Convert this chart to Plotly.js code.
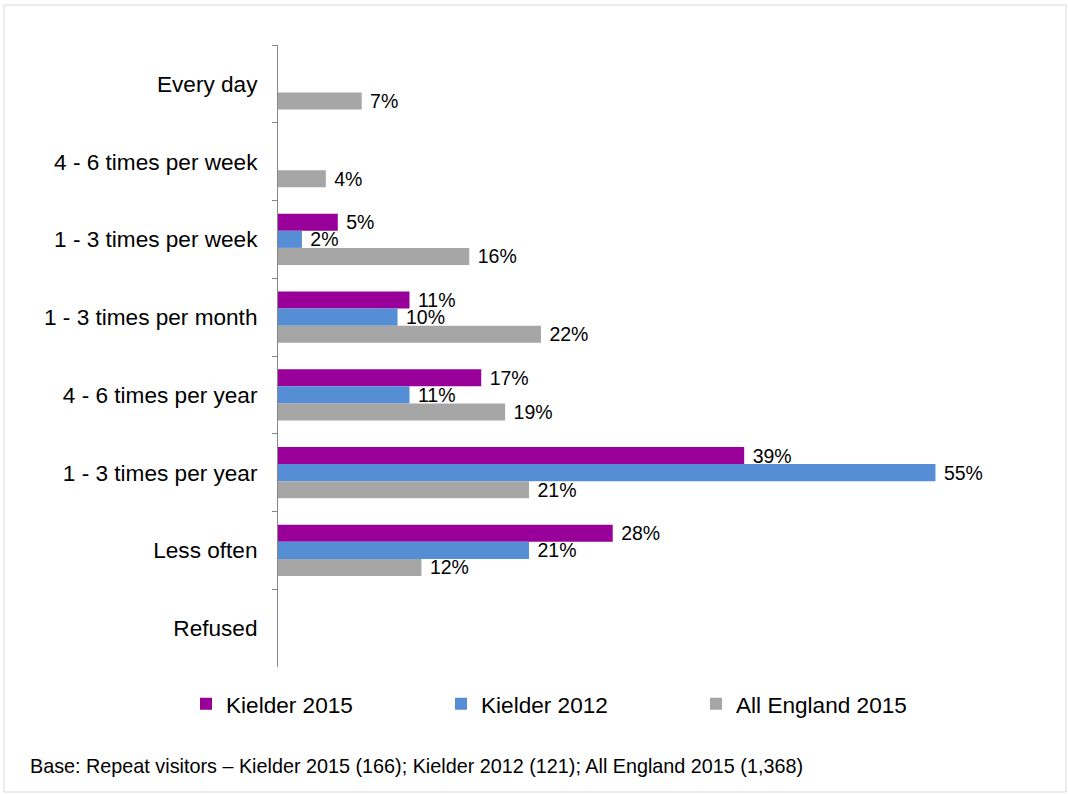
<!DOCTYPE html>
<html>
<head>
<meta charset="utf-8">
<script src="https://cdn.plot.ly/plotly-3.0.1.min.js"></script>
<style>html,body{margin:0;padding:0;background:#fff;}#chart{width:1068px;height:794px;}</style>
</head>
<body>
<div id="chart"></div>
<script>
const categories = ["Every day", "4 - 6 times per week", "1 - 3 times per week", "1 - 3 times per month", "4 - 6 times per year", "1 - 3 times per year", "Less often", "Refused"];
const kielder2015 = [null, null, 5, 11, 17, 39, 28, null];
const kielder2012 = [null, null, 2, 10, 11, 55, 21, null];
const england2015 = [7, 4, 16, 22, 19, 21, 12, null];
const seriesNames = ["Kielder 2015", "Kielder 2012", "All England 2015"];
const seriesColors = ["#990099", "#558ED5", "#A6A6A6"];
const footnote = "Base: Repeat visitors \u2013 Kielder 2015 (166); Kielder 2012 (121); All England 2015 (1,368)";

const font = "Liberation Sans, Arial, sans-serif";
const series = [kielder2015, kielder2012, england2015];
const traces = series.map((vals, i) => ({
  type: "bar",
  orientation: "h",
  name: seriesNames[i],
  y: categories,
  x: vals,
  marker: {color: seriesColors[i], line: {width: 0}},
  texttemplate: " %{x}%",
  textposition: "outside",
  constraintext: "none",
  cliponaxis: false,
  textfont: {family: font, size: 19.5, color: "#000"},
  hoverinfo: "skip"
}));

const L = 278, T = 45, W = 777, H = 622;
const layout = {
  width: 1068, height: 794,
  margin: {l: L, r: 1068 - L - W, t: T, b: 794 - T - H},
  paper_bgcolor: "#fff", plot_bgcolor: "#fff",
  barmode: "group",
  bargap: 0.344,
  bargroupgap: 0,
  font: {family: font, color: "#000"},
  xaxis: {range: [0, 65], visible: false, fixedrange: true},
  yaxis: {
    autorange: "reversed",
    showline: true, linecolor: "#868686", linewidth: 1,
    ticks: "outside", tickson: "boundaries", ticklen: 5, tickcolor: "#868686",
    tickfont: {family: font, size: 22.6, color: "#000"},
    ticklabelstandoff: 15,
    showgrid: false, zeroline: false
  },
  showlegend: true,
  legend: {
    orientation: "h", x: (186 - L) / W, xanchor: "left", y: (T + H - 704) / H, yanchor: "middle",
    entrywidth: 210, entrywidthmode: "pixels",
    font: {family: font, size: 22.6, color: "#000"},
    traceorder: "normal"
  },
  annotations: [{
    text: footnote, xref: "paper", yref: "paper",
    x: (28 - L) / W, y: (T + H - 766) / H, xanchor: "left", yanchor: "middle",
    showarrow: false, font: {family: font, size: 19.8, color: "#000"}
  }],
  shapes: [{
    type: "rect", xref: "paper", yref: "paper",
    x0: (4 - L) / W, x1: (1066 - L) / W, y0: (T + H - 792) / H, y1: (T + H - 5) / H,
    line: {color: "#d9d9d9", width: 1}, fillcolor: "rgba(0,0,0,0)", layer: "below"
  }]
};
Plotly.newPlot("chart", traces, layout, {displayModeBar: false, staticPlot: true});
</script>
</body>
</html>
